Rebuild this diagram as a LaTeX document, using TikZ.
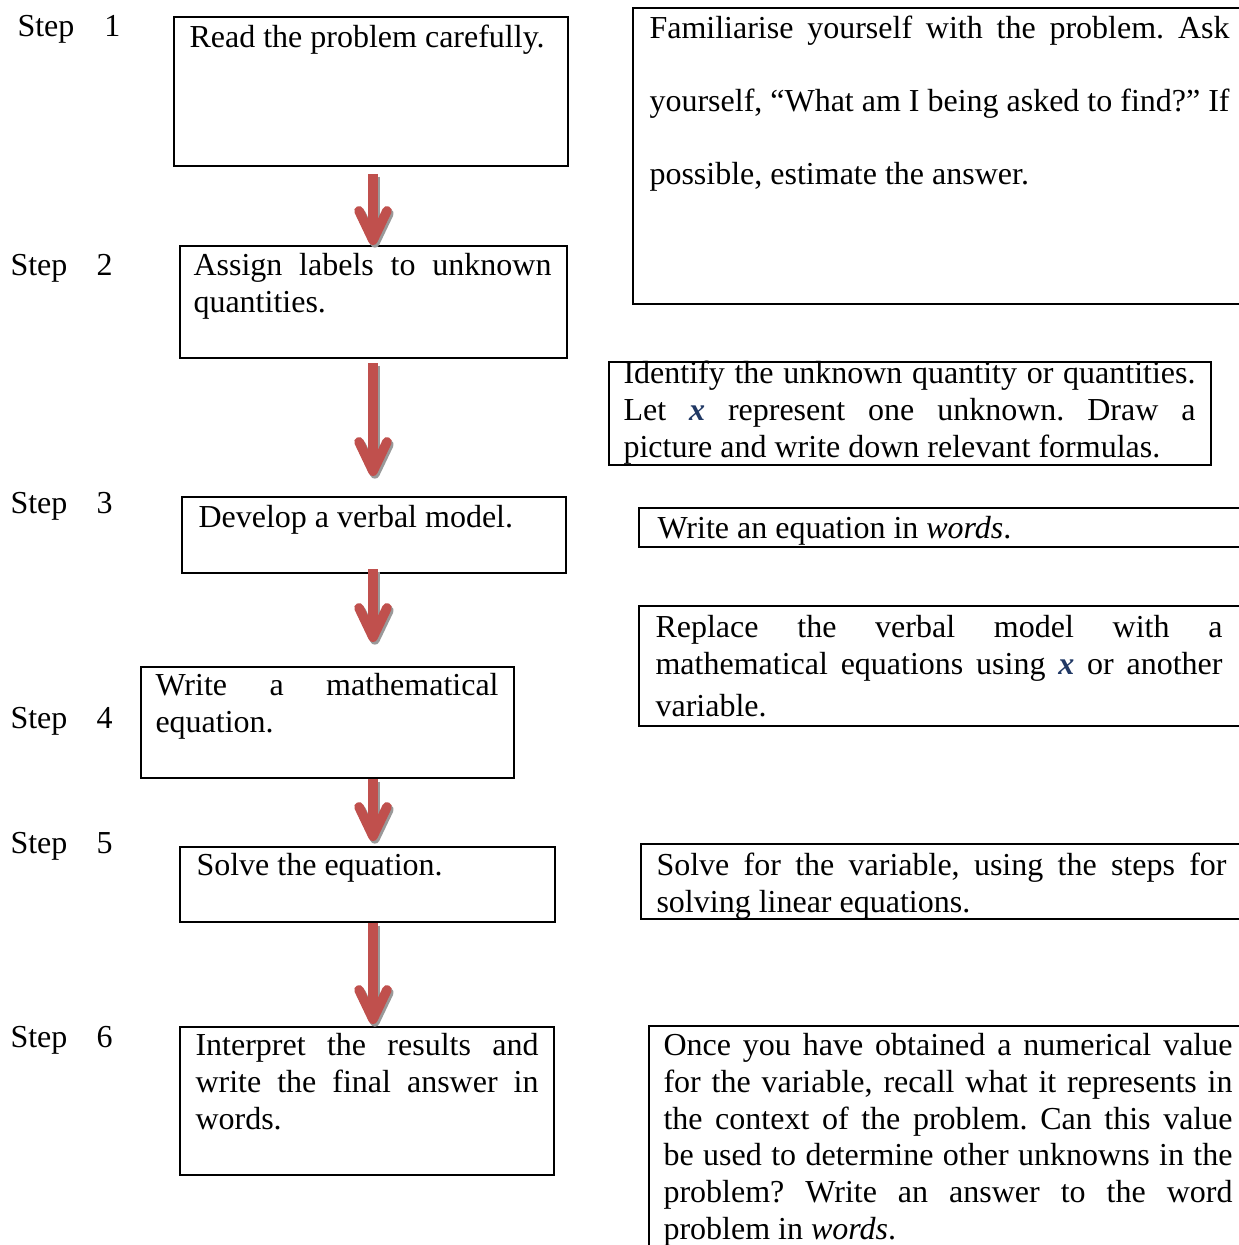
\documentclass[tikz,border=0pt]{standalone}
\usepackage{fontspec}
\setmainfont{Liberation Serif}
\usetikzlibrary{arrows.meta,fit}
\definecolor{flowred}{HTML}{C0504D}
\definecolor{xnavy}{HTML}{203864}
\newdimen\px \px=0.375pt
\newcommand{\tstrut}{\rule{0pt}{9.66pt}}
\newcommand{\varx}{{\color{xnavy}\bfseries\itshape x}}
\hyphenpenalty=10000 \exhyphenpenalty=10000 \hbadness=10000
\frenchspacing
\tikzset{
  box/.style={draw,line width=0.75pt,inner sep=0pt},
  txt/.style={anchor=north west,inner sep=0pt,align=justify,font=\fontsize{12}{13.8}\selectfont},
  steplabel/.style={anchor=base west,inner sep=0pt,font=\fontsize{12}{13.8}\selectfont},
  flow/.style={draw=flowred,line width=3.6pt,-{Straight Barb[length=11pt,width=10.5pt,round]}},
  flowshadow/.style={flow,draw=black!40,transform canvas={xshift=0.7pt,yshift=-1pt}},
}
\begin{document}
\begin{tikzpicture}[x=1\px,y=-1\px]
   \useasboundingbox (0,0) rectangle (1238,1245);
   % step labels
   \node [steplabel] (s1) at (17,37) {Step\hspace{11.2pt}1};
   \node [steplabel] (s2) at (10,275) {Step\hspace{11pt}2};
   \node [steplabel] (s3) at (10,513) {Step\hspace{11pt}3};
   \node [steplabel] (s4) at (10,728) {Step\hspace{11pt}4};
   \node [steplabel] (s5) at (10,853) {Step\hspace{11pt}5};
   \node [steplabel] (s6) at (10,1047) {Step\hspace{11pt}6};
   % left column
   \node [box,fit={(174,17) (568,166)}] (b1) {};
   \node [box,fit={(180,246) (567,358)}] (b2) {};
   \node [box,fit={(182,497) (566,573)}] (b3) {};
   \node [box,fit={(141,667) (514,778)}] (b4) {};
   \node [box,fit={(180,847) (555,922)}] (b5) {};
   \node [box,fit={(180,1027) (554,1175)}] (b6) {};
   \node [txt,text width=365\px] (bt1) at (189,21.2) {\tstrut Read the problem carefully.};
   \node [txt,text width=358\px] (bt2) at (193,249.2) {\tstrut Assign labels to unknown\linebreak quantities.};
   \node [txt,text width=355\px] (bt3) at (198,501.2) {\tstrut Develop a verbal model.};
   \node [txt,text width=343\px] (bt4) at (155,669.2) {\tstrut Write a mathematical\linebreak equation.};
   \node [txt,text width=343\px] (bt5) at (196,849.2) {\tstrut Solve the equation.};
   \node [txt,text width=343\px] (bt6) at (195,1029.2) {\tstrut Interpret the results and\linebreak write the final answer in\linebreak words.};
   % right column
   \node [box,fit={(633,8) (1250,304)}] (r1) {};
   \node [box,fit={(609,362) (1211,465)}] (r2) {};
   \node [box,fit={(639,508) (1250,547)}] (r3) {};
   \node [box,fit={(639,606) (1250,726)}] (r4) {};
   \node [box,fit={(641,844) (1250,919)}] (r5) {};
   \node [box,fit={(649,1026) (1250,1260)}] (r6) {};
   \node [txt,text width=580\px,font=\fontsize{12}{27.3}\selectfont] (rt1) at (649,12.2) {\tstrut Familiarise yourself with the problem. Ask\linebreak yourself, “What am I being asked to find?” If\linebreak possible, estimate the answer.};
   \node [txt,text width=572\px] (rt2) at (623,357.2) {\tstrut Identify the unknown quantity or quantities.\linebreak Let \varx{} represent one unknown. Draw a\linebreak picture and write down relevant formulas.};
   \node [txt,text width=570\px] (rt3) at (657,512.2) {\tstrut Write an equation in \textit{words}.};
   \node [txt,text width=567\px] (rt4) at (655,611.2) {\tstrut Replace the verbal model with a\linebreak mathematical equations using \varx\rule[-6.4pt]{0pt}{0pt} or another\linebreak variable.};
   \node [txt,text width=570\px] (rt5) at (656,849.2) {\tstrut Solve for the variable, using the steps for\linebreak solving linear equations.};
   \node [txt,text width=569\px] (rt6) at (663,1029.2) {\tstrut Once you have obtained a numerical value\linebreak for the variable, recall what it represents in\linebreak the context of the problem. Can this value\linebreak be used to determine other unknowns in the\linebreak problem? Write an answer to the word\linebreak problem in \textit{words}.};
   % arrows
   \coordinate (ax) at (373,0);
   \foreach \a/\b/\s/\e in {b1/b2/7/0,b2/b3/4/20,b3/b4/-5/24,b4/b5/0/5,b5/b6/0/2}{
     \draw [flowshadow,shorten <=\s\px,shorten >=\e\px] (\a.south -| ax) -- (\b.north -| ax);
     \draw [flow,shorten <=\s\px,shorten >=\e\px] (\a.south -| ax) -- (\b.north -| ax);
   }
\end{tikzpicture}
\end{document}
